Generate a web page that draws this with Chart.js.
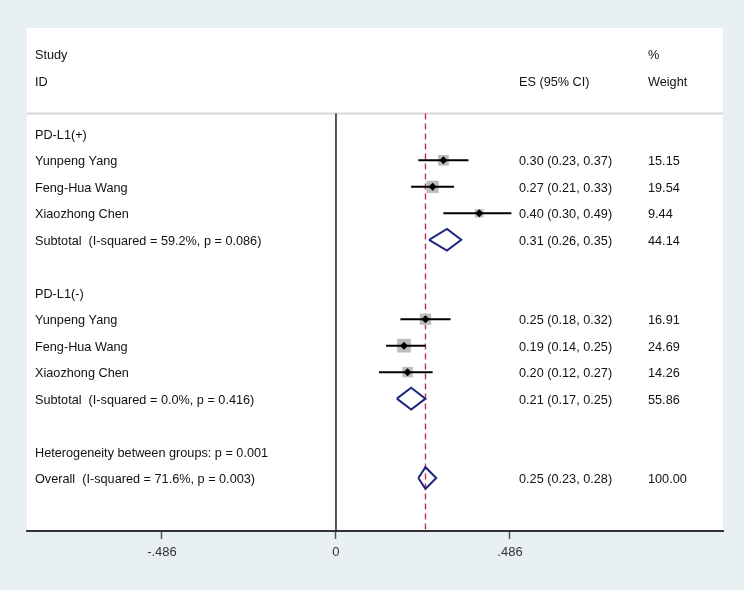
<!DOCTYPE html>
<html>
<head>
<meta charset="utf-8">
<script src="https://cdn.jsdelivr.net/npm/chart.js@4"></script>
<style>
  html, body { margin: 0; padding: 0; background: #e8f0f3; }
  #wrap { width: 744px; height: 590px; position: relative; }
</style>
</head>
<body>
<div id="wrap"><canvas id="forestChart"></canvas></div>
<script>
// study data
const studyNames = ['Yunpeng Yang', 'Feng-Hua Wang', 'Xiaozhong Chen'];
const groupNames = ['PD-L1(+)', 'PD-L1(-)'];

const posES = [0.30, 0.27, 0.40];
const posLo = [0.23, 0.21, 0.30];
const posHi = [0.37, 0.33, 0.49];
const posWeight = [15.15, 19.54, 9.44];

const negES = [0.25, 0.19, 0.20];
const negLo = [0.18, 0.14, 0.12];
const negHi = [0.32, 0.25, 0.27];
const negWeight = [16.91, 24.69, 14.26];

const subES = [0.31, 0.21];
const subLo = [0.26, 0.17];
const subHi = [0.35, 0.25];
const subWeight = [44.14, 55.86];
const subLabels = ['Subtotal  (I-squared = 59.2%, p = 0.086)', 'Subtotal  (I-squared = 0.0%, p = 0.416)'];

const overallES = 0.25, overallLo = 0.23, overallHi = 0.28, overallWeight = 100.00;
const overallLabel = 'Overall  (I-squared = 71.6%, p = 0.003)';
const hetLabel = 'Heterogeneity between groups: p = 0.001';

const xTicks = [-0.486, 0, 0.486];
const xTickLabels = ['-.486', '0', '.486'];

// row layout (one row per text line)
const groupRows = [0, 6];
const studyRows = [[1, 2, 3], [7, 8, 9]];
const subRows = [4, 10];
const hetRow = 12, overallRow = 13;
const topRow = -0.77, axisRow = 15;

const FAMILY = '"Liberation Sans", Arial, sans-serif';
const FONT = '12.7px ' + FAMILY;
const fmt = v => v.toFixed(2);
const esText = (e, l, h) => fmt(e) + ' (' + fmt(l) + ', ' + fmt(h) + ')';

const groups = [
  { es: posES, lo: posLo, hi: posHi, w: posWeight },
  { es: negES, lo: negLo, hi: negHi, w: negWeight }
];

const datasets = [];
const boxPts = [], boxR = [], dotPts = [];

groups.forEach((g, gi) => {
  g.es.forEach((e, i) => {
    const r = studyRows[gi][i];
    datasets.push({
      type: 'line', data: [{ x: g.lo[i], y: r }, { x: g.hi[i], y: r }],
      borderColor: '#000', borderWidth: 2, pointRadius: 0, order: 2
    });
    boxPts.push({ x: e, y: r });
    boxR.push(1.95 * Math.sqrt(g.w[i]));
    dotPts.push({ x: e, y: r });
  });
});

const diamond = (e, l, h, r) => [
  { x: l, y: r }, { x: e, y: r - 0.41 }, { x: h, y: r }, { x: e, y: r + 0.41 }, { x: l, y: r }
];
subES.forEach((e, i) => {
  datasets.push({
    type: 'line', data: diamond(e, subLo[i], subHi[i], subRows[i]),
    borderColor: '#1c2580', borderWidth: 2, pointRadius: 0, tension: 0, order: 1
  });
});
datasets.push({
  type: 'line', data: diamond(overallES, overallLo, overallHi, overallRow),
  borderColor: '#1c2580', borderWidth: 2, pointRadius: 0, tension: 0, order: 1
});

datasets.push({
  type: 'scatter', data: boxPts, pointStyle: 'rect', pointRadius: boxR,
  backgroundColor: '#bcbcbc', borderWidth: 0, order: 3
});
datasets.push({
  type: 'scatter', data: dotPts, pointStyle: 'rectRot', pointRadius: 4,
  backgroundColor: '#000', borderWidth: 0, order: 0
});

// reference lines
datasets.push({
  type: 'line', data: [{ x: 0, y: topRow }, { x: 0, y: axisRow }],
  borderColor: '#222', borderWidth: 1.5, pointRadius: 0, order: 5
});
datasets.push({
  type: 'line', data: [{ x: overallES, y: topRow }, { x: overallES, y: axisRow }],
  borderColor: '#c0304f', borderWidth: 1.4, borderDash: [6, 4], pointRadius: 0, order: 4
});

const textPlugin = {
  id: 'forestText',
  beforeDraw(chart) {
    const { ctx, chartArea: a, scales } = chart;
    ctx.save();
    ctx.fillStyle = '#fff';
    ctx.fillRect(a.left, a.top, a.right - a.left, a.bottom - a.top);
    const ys = scales.y.getPixelForValue(topRow);
    ctx.strokeStyle = '#d6d6d6';
    ctx.lineWidth = 2;
    ctx.beginPath();
    ctx.moveTo(a.left, ys);
    ctx.lineTo(a.right, ys);
    ctx.stroke();
    ctx.restore();
  },
  afterDatasetsDraw(chart) {
    const { ctx, scales } = chart;
    const y = r => scales.y.getPixelForValue(r) + 1.5;
    const xL = 35, xES = 519, xW = 648;
    ctx.save();
    ctx.font = FONT;
    ctx.fillStyle = '#111';
    ctx.textBaseline = 'middle';
    ctx.textAlign = 'left';
    ctx.fillText('Study', xL, y(-3));
    ctx.fillText('ID', xL, y(-2));
    ctx.fillText('%', xW, y(-3));
    ctx.fillText('ES (95% CI)', xES, y(-2));
    ctx.fillText('Weight', xW, y(-2));
    groups.forEach((g, gi) => {
      ctx.fillText(groupNames[gi], xL, y(groupRows[gi]));
      g.es.forEach((e, i) => {
        const r = studyRows[gi][i];
        ctx.fillText(studyNames[i], xL, y(r));
        ctx.fillText(esText(e, g.lo[i], g.hi[i]), xES, y(r));
        ctx.fillText(fmt(g.w[i]), xW, y(r));
      });
      const sr = subRows[gi];
      ctx.fillText(subLabels[gi], xL, y(sr));
      ctx.fillText(esText(subES[gi], subLo[gi], subHi[gi]), xES, y(sr));
      ctx.fillText(fmt(subWeight[gi]), xW, y(sr));
    });
    ctx.fillText(hetLabel, xL, y(hetRow));
    ctx.fillText(overallLabel, xL, y(overallRow));
    ctx.fillText(esText(overallES, overallLo, overallHi), xES, y(overallRow));
    ctx.fillText(fmt(overallWeight), xW, y(overallRow));
    ctx.restore();
  }
};

new Chart(document.getElementById('forestChart'), {
  type: 'scatter',
  data: { datasets: datasets },
  options: {
    responsive: true,
    maintainAspectRatio: false,
    animation: false,
    layout: { padding: { left: 27, right: 21, top: 28, bottom: 0 } },
    plugins: { legend: { display: false }, tooltip: { enabled: false } },
    elements: { line: { fill: false } },
    scales: {
      x: {
        type: 'linear',
        min: -0.863,
        max: 1.081,
        afterBuildTicks: s => { s.ticks = xTicks.map(v => ({ value: v })); },
        afterFit: s => { s.height = 59; },
        ticks: {
          callback: (v, i) => xTickLabels[i],
          font: { family: FAMILY, size: 13 },
          color: '#333',
          padding: 6,
          maxRotation: 0,
          autoSkip: false
        },
        grid: { drawOnChartArea: false, drawTicks: true, tickLength: 8, tickColor: '#555', tickWidth: 1.5 },
        border: { display: true, color: '#333', width: 2 }
      },
      y: { type: 'linear', min: -4, max: axisRow, reverse: true, display: false }
    }
  },
  plugins: [textPlugin]
});
</script>
</body>
</html>
